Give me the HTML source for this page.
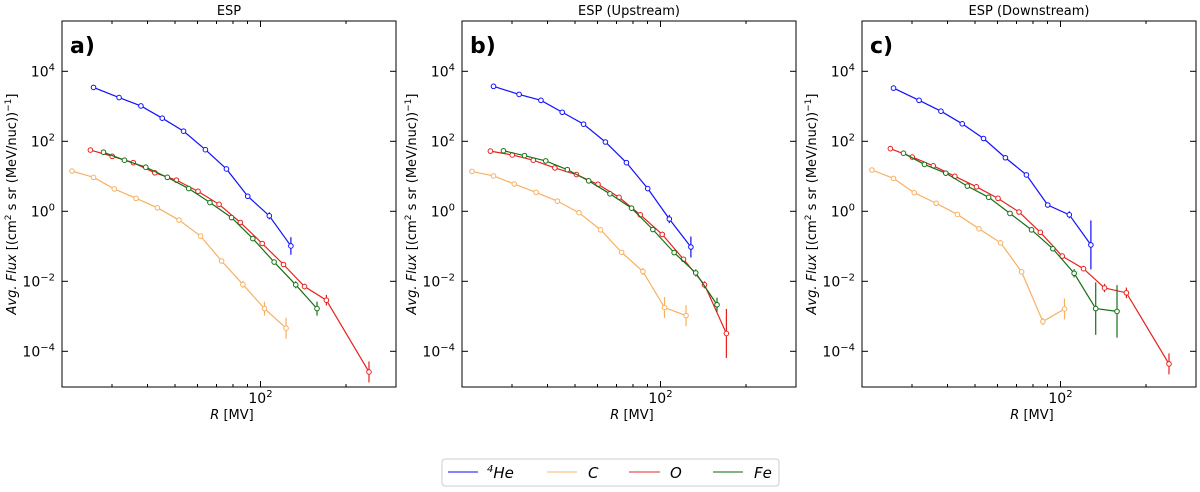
<!DOCTYPE html>
<html><head><meta charset="utf-8"><style>
body{margin:0;background:#fff;width:1200px;height:492px;overflow:hidden}
svg{display:block;font-family:"DejaVu Sans","Liberation Sans",sans-serif}
</style></head><body>
<svg id="fig" width="1200" height="492" viewBox="0 0 1200 492">
<g>
<rect x="442" y="459" width="337" height="27" rx="3" fill="#fff" stroke="#ccc"/>
<g><line x1="448" y1="472" x2="478" y2="472" stroke="#5c5cff" stroke-width="1.5"/><text x="487" y="478" font-size="15" font-style="italic"><tspan font-size="10" dy="-6">4</tspan><tspan dy="6">He</tspan></text></g>
<g><line x1="547" y1="472" x2="577" y2="472" stroke="#fbcf9c" stroke-width="1.5"/><text x="588" y="478" font-size="15" font-style="italic">C</text></g>
<g><line x1="629" y1="472" x2="660" y2="472" stroke="#ee7070" stroke-width="1.5"/><text x="670" y="478" font-size="15" font-style="italic">O</text></g>
<g><line x1="713" y1="472" x2="743" y2="472" stroke="#5a9a5a" stroke-width="1.5"/><text x="754" y="478" font-size="15" font-style="italic">Fe</text></g>
</g>
</svg>
<script>
// log10 of R (MV) and log10 of flux
const xHe=[1.412,1.502,1.579,1.654,1.729,1.806,1.880,1.955,2.031,2.107];
const xC=[1.336,1.412,1.485,1.562,1.637,1.713,1.789,1.863,1.938,2.014,2.090];
const xO=[1.401,1.478,1.552,1.628,1.704,1.780,1.854,1.929,2.006,2.081,2.155,2.232,2.382];
const xOb=[1.401,1.478,1.552,1.628,1.704,1.780,1.854,1.929,2.006,2.081,2.155,2.232];
const xFe=[1.447,1.521,1.596,1.672,1.747,1.822,1.898,1.973,2.048,2.124,2.199];
const xCc=[1.336,1.412,1.485,1.562,1.637,1.713,1.789,1.863,1.938,2.014];
const aHe=[3.54,3.25,3.01,2.66,2.29,1.76,1.21,0.43,-0.13,-0.99];
const aC=[1.15,0.97,0.64,0.37,0.10,-0.25,-0.71,-1.42,-2.09,-2.78,-3.34];
const aO=[1.75,1.57,1.39,1.10,0.89,0.57,0.20,-0.32,-0.92,-1.52,-2.15,-2.54,-4.59];
const aFe=[1.69,1.46,1.26,0.97,0.65,0.25,-0.18,-0.78,-1.45,-2.10,-2.78];
const bHe=[3.57,3.34,3.17,2.83,2.49,1.98,1.39,0.65,-0.22,-1.02];
const bC=[1.14,1.01,0.78,0.54,0.29,-0.04,-0.53,-1.17,-1.72,-2.75,-2.98];
const bO=[1.72,1.61,1.46,1.24,1.05,0.77,0.40,-0.10,-0.66,-1.37,-2.10,-3.49];
const bFe=[1.73,1.59,1.44,1.19,0.87,0.50,0.09,-0.52,-1.18,-1.76,-2.67];
const cHe=[3.52,3.17,2.86,2.50,2.08,1.53,1.04,0.18,-0.10,-0.96];
const cC=[1.18,0.94,0.53,0.23,-0.09,-0.50,-0.90,-1.73,-3.15,-2.79];
const cO=[1.79,1.55,1.30,1.00,0.70,0.37,-0.02,-0.60,-1.28,-1.64,-2.19,-2.33,-4.36];
const cFe=[1.66,1.34,1.09,0.72,0.40,-0.06,-0.53,-1.07,-1.77,-2.78,-2.86];
// error half-lengths in decades
const aErr={He:[0,0,0,0,0,0,0,0,0.1,0.25],C:[0,0,0,0,0,0,0,0,0.1,0.2,0.3],O:[0,0,0,0,0,0,0,0,0,0,0.08,0.15,0.3],Fe:[0,0,0,0,0,0,0,0,0,0.1,0.2]};
const bErr={He:[0,0,0,0,0,0,0,0,0.12,0.3],C:[0,0,0,0,0,0,0,0,0.1,0.3,0.3],O:[0,0,0,0,0,0,0,0,0,0,0.1,0.7],Fe:[0,0,0,0,0,0,0,0,0,0.1,0.2]};
const cErr={He:[0,0,0,0,0,0,0,0,0.1,0.7],C:[0,0,0,0,0,0,0,0,0.1,0.3,0.3],O:[0,0,0,0,0,0,0,0,0,0.08,0.12,0.15,0.3],Fe:[0,0,0,0,0,0,0,0,0.12,0.75,0.75]};
const titles=["ESP","ESP (Upstream)","ESP (Downstream)"];
const letters=["a)","b)","c)"];
const yTicks=[4,2,0,-2,-4];
const ns="http://www.w3.org/2000/svg";
const svg=document.getElementById('fig');
const col={He:"#1010ff",C:"#f8b060",O:"#e8201c",Fe:"#157015"};
function mk(t,a,p){const e=document.createElementNS(ns,t);for(const k in a)e.setAttribute(k,a[k]);(p||svg).appendChild(e);return e;}
const panels=[
 {L:62,d:{He:[xHe,aHe],C:[xC,aC],O:[xO,aO],Fe:[xFe,aFe]},e:aErr},
 {L:462,d:{He:[xHe,bHe],C:[xC,bC],O:[xOb,bO],Fe:[xFe,bFe]},e:bErr},
 {L:862,d:{He:[xHe,cHe],C:[xCc,cC],O:[xO,cO],Fe:[xFe,cFe]},e:cErr}];
panels.forEach((P,i)=>{
 const L=P.L,R=L+334,T=21,B=387;
 const xs=v=>L+(v-Math.log10(20))/(Math.log10(300)-Math.log10(20))*(R-L);
 const ys=v=>211.3-v*35;
 const g=mk('g',{});
 
 
 const t=mk('text',{x:(L+R)/2,y:15,'font-size':13,'text-anchor':'middle'},g);t.textContent=titles[i];
 
 
 const lt=mk('text',{x:L+8,y:53,'font-size':22,'font-weight':'bold'},g);lt.textContent=letters[i];
 
 
 mk('rect',{x:L,y:T,width:R-L,height:B-T,fill:'none',stroke:'#000','stroke-width':1},g);
 yTicks.forEach(v=>{const y=ys(v);
  mk('line',{x1:L,y1:y,x2:L+6,y2:y,stroke:'#000'},g);mk('line',{x1:R,y1:y,x2:R-6,y2:y,stroke:'#000'},g);
  const tx=mk('text',{x:L-7,y:y+5,'font-size':14,'text-anchor':'end'},g);
  tx.innerHTML='10<tspan font-size="10" dy="-6">'+(v<0?'\u2212'+(-v):v)+'</tspan>';
  
  });
 [30,40,50,60,70,80,90,200].forEach(v=>{const x=xs(Math.log10(v));
  mk('line',{x1:x,y1:B,x2:x,y2:B-3,stroke:'#000'},g);mk('line',{x1:x,y1:T,x2:x,y2:T+3,stroke:'#000'},g);});
 const x2=xs(2);mk('line',{x1:x2,y1:B,x2:x2,y2:B-6,stroke:'#000'},g);mk('line',{x1:x2,y1:T,x2:x2,y2:T+6,stroke:'#000'},g);
 const xl=mk('text',{x:x2,y:403,'font-size':14,'text-anchor':'middle'},g);xl.innerHTML='10<tspan font-size="10" dy="-6">2</tspan>';
 
 
 const xt=mk('text',{x:L+170,y:419,'font-size':13,'text-anchor':'middle'},g);xt.innerHTML='<tspan font-style="italic">R</tspan> [MV]';
 
 
 const yt=mk('text',{x:0,y:0,'font-size':13,'text-anchor':'middle',transform:`translate(${L-46},${(T+B)/2}) rotate(-90)`},g);
 yt.innerHTML='<tspan font-style="italic">Avg. Flux</tspan> [(cm<tspan font-size="9" dy="-5">2</tspan><tspan dy="5"> s sr (MeV/nuc))</tspan><tspan font-size="9" dy="-5">\u22121</tspan><tspan dy="5">]</tspan>';
 
 
 ['C','He','O','Fe'].forEach(k=>{
  const [X,Y]=P.d[k];const E=P.e[k];
  const s=mk('g',{},g);
  
  
  mk('polyline',{points:X.map((v,j)=>xs(v)+','+ys(Y[j])).join(' '),fill:'none',stroke:col[k],'stroke-width':1.2},s);
  X.forEach((v,j)=>{const e=E[j]||0;
   if(e>0)mk('line',{x1:xs(v),x2:xs(v),y1:ys(Y[j]+e),y2:Math.min(B,ys(Y[j]-e)),stroke:col[k],'stroke-width':1.2},s);
   const c=mk('circle',{cx:xs(v),cy:ys(Y[j]),r:2.3,fill:'#fff',stroke:col[k],'stroke-width':1},s);
   
   });
 });
});
</script>
</body></html>
